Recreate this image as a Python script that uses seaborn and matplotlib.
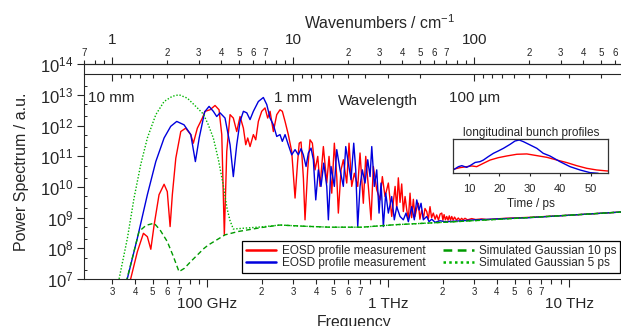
import numpy as np
import matplotlib
matplotlib.use("Agg")
import matplotlib.pyplot as plt
from matplotlib import ticker
from matplotlib.transforms import blended_transform_factory
import seaborn as sns

# conversion constants (frequency in GHz)
C_MM_GHZ = 299.792458   # wavelength [mm] * frequency [GHz]
C_CM_GHZ = 29.9792458   # frequency [GHz] / wavenumber [cm^-1]

# --- EOSD spectrum 1 (red): frequency [GHz], log10(power) ---
red_freq = [37.3, 37.9, 41.2, 44.5, 46.8, 48.9, 51.0, 54.3, 57.9, 60.3, 62.5, 64.3, 67.2, 71.6,
            76.2, 81.3, 84.0, 88.4, 94.2, 97.5, 103.9, 110.7, 116.5, 120.6, 124.6, 128.5, 134.0,
            139.7, 145.9, 152.2, 158.8, 163.6, 167.8, 172.8, 180.3, 185.8, 192.1, 200.5, 209.1,
            216.3, 222.9, 232.5, 242.7, 253.0, 260.6, 269.8, 281.2, 293.6, 306.4, 316.6, 323.1,
            330.7, 340.7, 347.8, 359.8, 370.7, 381.9, 395.2, 409.0, 421.1, 439.2, 458.6, 472.1,
            488.7, 505.1, 520.8, 531.4, 550.0, 566.2, 591.3, 608.8, 630.0, 651.3, 680.1, 700.3,
            730.3, 753.0, 778.4, 805.4, 829.5, 866.2, 903.3, 930.1, 962.5, 1004, 1048, 1094, 1117,
            1140, 1165, 1190, 1215, 1242, 1269, 1295, 1323, 1350, 1380, 1409, 1440, 1471, 1500,
            1535, 1570, 1600, 1636, 1670, 1706, 1740, 1779, 1820, 1857, 1900, 1940, 1981, 2010,
            2040, 2075, 2110, 2145, 2180, 2215, 2249, 2290, 2330, 2390, 2445, 2500, 2550, 2600,
            2662, 2750, 2900, 3050, 3294, 3500, 3742, 4430, 6000, 10000, 20000]
red_log = [6.9, 7.02, 7.89, 8.49, 8.38, 7.97, 8.76, 9.75, 10.09, 9.85, 8.71, 9.75, 10.94, 11.81,
           11.92, 11.71, 11.43, 11.92, 12.25, 12.47, 12.52, 12.66, 12.52, 11.71, 8.44, 11.16, 12.36,
           12.25, 11.81, 12.30, 11.92, 11.38, 11.60, 11.32, 11.71, 11.54, 12.14, 12.47, 12.58,
           12.25, 12.47, 11.81, 12.36, 12.52, 12.47, 12.14, 11.71, 11.16, 9.64, 10.83, 11.43,
           11.47, 10.29, 8.93, 10.56, 11.54, 11.43, 10.56, 11.0, 10.02, 11.32, 10.13, 11.0,
           9.80, 11.43, 10.34, 9.15, 10.56, 10.89, 10.13, 11.43, 10.02, 10.45, 10.02, 11.11,
           9.47, 11.0, 10.02, 8.93, 10.67, 9.91, 9.58, 10.34, 9.69, 10.13, 9.04, 10.02, 9.3,
           10.3, 9.5, 10.1, 9.2, 9.69, 9.25, 8.95, 9.8, 9.0, 9.6, 9.04, 9.3, 9.47, 8.95,
           9.25, 8.98, 9.3, 9.20, 8.95, 9.36, 9.0, 9.15, 8.95, 9.09, 8.92, 9.12, 9.15, 8.92,
           9.1, 8.93, 9.04, 8.92, 9.06, 8.92, 9.04, 8.92, 9.02, 8.92, 8.99, 8.92, 8.98, 8.93,
           8.98, 8.93, 8.97, 8.94, 8.96, 8.94, 8.95, 8.98, 9.01, 9.08, 9.19]

# --- EOSD spectrum 2 (blue) ---
blue_freq = [35.5, 36.3, 41.2, 46.8, 52.1, 57.9, 63.0, 68.0, 74.6, 81.3, 86.2, 90.5, 97.0, 102.6,
             108.3, 113.1, 118.0, 125.7, 134.0, 139.7, 145.9, 152.2, 158.8, 165.8, 172.8, 180.3,
             192.1, 204.7, 213.8, 222.9, 232.5, 242.7, 253.0, 260.6, 269.8, 281.2, 293.6, 306.4,
             319.5, 330.6, 340.4, 352.4, 362.9, 375.5, 386.7, 398.7, 412.1, 426.4, 441.3, 458.6,
             468.1, 484.2, 505.1, 520.8, 543.1, 566.2, 583.8, 603.5, 624.6, 646.4, 663.0, 680.1,
             700.3, 721.1, 746.4, 772.5, 795.7, 813.0, 840.1, 866.2, 892.0, 915.0, 942.2, 971.2,
             1004, 1048, 1083, 1117, 1165, 1215, 1257, 1295, 1352, 1397, 1441, 1484, 1522, 1567,
             1636, 1685, 1744, 1819, 1938, 2065, 2249, 2553, 3025, 3742, 4430, 6000, 10000, 20000]
blue_log = [6.9, 7.02, 8.33, 9.75, 10.83, 11.60, 11.98, 12.14, 12.03, 11.71, 10.83, 11.6, 12.45, 12.63,
            12.47, 12.30, 12.42, 12.25, 11.38, 10.34, 11.38, 12.14, 12.47, 12.42, 12.20, 12.47,
            12.79, 12.92, 12.69, 12.25, 12.03, 11.65, 11.71, 11.49, 11.71, 11.38, 11.05, 11.22,
            11.05, 11.25, 11.05, 10.67, 11.11, 11.27, 10.89, 9.58, 10.56, 10.02, 10.78, 10.02,
            8.93, 10.67, 10.02, 11.22, 10.56, 10.02, 11.32, 10.78, 10.24, 11.43, 10.56, 8.71,
            10.02, 10.56, 10.13, 10.89, 10.34, 11.32, 10.02, 10.56, 9.15, 10.13, 8.71, 9.80,
            9.15, 9.69, 8.93, 9.36, 9.04, 8.93, 9.15, 8.87, 9.36, 8.93, 9.58, 9.25, 9.47, 8.93,
            9.04, 8.87, 8.95, 8.85, 8.90, 8.87, 8.88, 8.9, 8.93, 8.95, 8.97, 9.0, 9.08, 9.19]

# --- simulated Gaussian spectra; both sit on the same floor at high frequency ---
gauss10_freq = [35.5, 36.1, 42.1, 46.0, 51.0, 55.0, 60.3, 65.0, 70.0, 75.0, 81.3, 96.3, 101.7,
                125.7, 148.9, 175.0, 200.5]
gauss10_log = [6.9, 7.0, 8.55, 8.75, 8.82, 8.6, 8.22, 7.75, 7.24, 7.35, 7.57, 8.0, 8.11,
               8.44, 8.55, 8.62, 8.68]
gauss5_freq = [32.0, 32.7, 36.3, 39.5, 43.0, 46.8, 52.1, 57.9, 64.3, 70.0, 77.8, 88.4, 95.4,
               101.3, 108.3, 115.5, 123.0, 129.0, 134.0, 139.7, 162.0, 200.5]
gauss5_log = [6.8, 7.02, 8.33, 9.64, 10.73, 11.6, 12.36, 12.79, 12.96, 13.01, 12.9, 12.58, 12.38,
              12.05, 11.6, 10.9, 10.05, 9.3, 8.9, 8.63, 8.66, 8.7]
floor_freq = [253.0, 348.0, 478.0, 716.0, 1090, 2200, 4160, 10000, 20000]
floor_log = [8.76, 8.72, 8.69, 8.69, 8.77, 8.86, 8.95, 9.08, 9.19]

# --- inset: longitudinal bunch profiles ---
prof_blue_t = [4.8, 6.5, 7.6, 9.2, 10.3, 12.0, 13.6, 14.7, 16.3, 18.0, 19.6, 21.3, 23.5, 25.1,
               26.5, 27.9, 30.1, 32.3, 34.4, 36.6, 39.9, 43.2, 46.5, 49.8, 52.5]
prof_blue = [0.10, 0.196, 0.225, 0.176, 0.225, 0.32, 0.343, 0.39, 0.49, 0.588, 0.657, 0.735,
             0.853, 0.95, 0.98, 0.93, 0.833, 0.735, 0.588, 0.51, 0.343, 0.196, 0.098, 0.02, 0.0]
prof_red_t = [4.8, 7.0, 9.2, 10.9, 12.5, 14.7, 16.9, 19.6, 22.4, 25.7, 29.0, 32.3, 35.6, 38.9,
              42.2, 45.4, 48.7, 52.0, 55.3, 55.8]
prof_red = [0.118, 0.167, 0.196, 0.216, 0.196, 0.294, 0.39, 0.46, 0.51, 0.56, 0.57, 0.52, 0.47,
            0.39, 0.314, 0.225, 0.147, 0.098, 0.07, 0.068]

major_freq = [100, 1000, 10000]
major_freq_labels = ["100 GHz", "1 THz", "10 THz"]
major_wn = [1, 10, 100]
wl_marks = [10.0, 1.0, 0.1]
wl_labels = ["10 mm", "1 mm", "100 µm"]

RED = "#ff0000"
BLUE = "#0000dd"
GREEN_DASH = "#009a00"
GREEN_DOT = "#00b400"


def ghz_to_mm(f):
    f = np.asarray(f, dtype=float)
    with np.errstate(divide="ignore", invalid="ignore"):
        return C_MM_GHZ / f


def ghz_to_wn(f):
    return np.asarray(f, dtype=float) / C_CM_GHZ


def wn_to_ghz(k):
    return np.asarray(k, dtype=float) * C_CM_GHZ


def minor_digit(v, pos=None):
    if v <= 0:
        return ""
    d = int(round(v / 10 ** np.floor(np.log10(v) + 1e-9)))
    return str(d) if 2 <= d <= 7 else ""


sns.set_style("ticks")
plt.rcParams["font.family"] = ["Liberation Sans", "DejaVu Sans"]
plt.rcParams["mathtext.default"] = "regular"
plt.rcParams["axes.linewidth"] = 0.8

fig = plt.figure(figsize=(6.21, 3.26), dpi=100)
ax = fig.add_axes([84 / 621, 47 / 326, 539.5 / 621, 214.6 / 326])

sns.lineplot(x=red_freq, y=10.0 ** np.array(red_log), ax=ax, color=RED, lw=1.0,
             sort=False, estimator=None, label="EOSD profile measurement")
sns.lineplot(x=blue_freq, y=10.0 ** np.array(blue_log), ax=ax, color=BLUE, lw=1.0,
             sort=False, estimator=None, label="EOSD profile measurement")
sns.lineplot(x=gauss10_freq + floor_freq, y=10.0 ** np.array(gauss10_log + floor_log), ax=ax,
             color=GREEN_DASH, lw=1.0, linestyle=(0, (3.5, 2.2)),
             sort=False, estimator=None, label="Simulated Gaussian 10 ps")
sns.lineplot(x=gauss5_freq + floor_freq, y=10.0 ** np.array(gauss5_log + floor_log), ax=ax,
             color=GREEN_DOT, lw=1.0, linestyle=(0, (1, 1.3)),
             sort=False, estimator=None, label="Simulated Gaussian 5 ps")

ax.set_xscale("log")
ax.set_yscale("log")
ax.set_xlim(20.9, 20000)
ax.set_ylim(1e7, 1e14)
ax.spines["right"].set_visible(False)

# bottom frequency axis
ax.xaxis.set_major_locator(ticker.FixedLocator(major_freq))
ax.xaxis.set_major_formatter(ticker.FixedFormatter(major_freq_labels))
ax.xaxis.set_minor_locator(ticker.LogLocator(base=10, subs=np.arange(2, 10), numticks=30))
ax.xaxis.set_minor_formatter(ticker.FuncFormatter(minor_digit))
ax.tick_params(axis="x", which="major", direction="out", length=5.8, width=0.8, pad=7,
               labelsize=11, top=False)
ax.tick_params(axis="x", which="minor", direction="out", length=3.6, width=0.8, pad=2.2,
               labelsize=7, top=False)
ax.set_xlabel("Frequency", fontsize=11.3, labelpad=3)

# left power axis
ax.yaxis.set_major_locator(ticker.LogLocator(base=10, numticks=20))
ax.yaxis.set_minor_locator(ticker.LogLocator(base=10, subs=(2, 5), numticks=20))
ax.yaxis.set_minor_formatter(ticker.NullFormatter())
ax.tick_params(axis="y", which="major", direction="out", length=4.8, width=0.8, pad=3,
               labelsize=12, right=False)
ax.tick_params(axis="y", which="minor", direction="in", length=2, width=0.7, right=False)
ax.set_ylabel("Power Spectrum / a.u.", fontsize=11.5, labelpad=8)

# top wavenumber axis
wn = ax.secondary_xaxis("top", functions=(ghz_to_wn, wn_to_ghz))
wn.xaxis.set_major_locator(ticker.FixedLocator(major_wn))
wn.xaxis.set_major_formatter(ticker.FixedFormatter([str(k) for k in major_wn]))
wn.xaxis.set_minor_locator(ticker.LogLocator(base=10, subs=np.arange(2, 10), numticks=30))
wn.xaxis.set_minor_formatter(ticker.FuncFormatter(minor_digit))
wn.tick_params(axis="x", which="major", direction="out", length=4.8, width=0.8, pad=7.5,
               labelsize=11)
wn.tick_params(axis="x", which="minor", direction="out", length=2.9, width=0.8, pad=2,
               labelsize=7)
fig.text(380 / 621, 1 - 23 / 326, "Wavenumbers / cm$^{-1}$", ha="center", va="center",
         fontsize=11.4)

# wavelength axis drawn as a line inside the plot, ticks hanging down
wl_pos = (279 - 74) / 214.6
wl = ax.secondary_xaxis(wl_pos, functions=(ghz_to_mm, ghz_to_mm))
wl.xaxis.set_major_locator(ticker.FixedLocator(wl_marks))
wl.xaxis.set_minor_locator(ticker.LogLocator(base=10, subs=np.arange(2, 10), numticks=30))
wl.xaxis.set_minor_formatter(ticker.NullFormatter())
wl.tick_params(axis="x", which="both", direction="in", width=0.8, labeltop=False,
               labelbottom=False)
wl.tick_params(axis="x", which="major", length=4.8)
wl.tick_params(axis="x", which="minor", length=2.9)

tr = blended_transform_factory(ax.transData, ax.transAxes)
ax.text(0.008, 0.843, wl_labels[0], transform=ax.transAxes, ha="left", va="center", fontsize=11)
for mark, lab in zip(wl_marks[1:], wl_labels[1:]):
    ax.text(C_MM_GHZ / mark, 0.843, lab, transform=tr, ha="center", va="center", fontsize=11)
ax.text(0.544, 0.83, "Wavelength", transform=ax.transAxes, ha="center", va="center",
        fontsize=11)

leg = ax.legend(loc="lower right", bbox_to_anchor=(0.9935, 0.028), ncol=2, fontsize=8.5,
                frameon=True, fancybox=False, edgecolor="black", framealpha=1,
                handlelength=2.6, handletextpad=0.45, columnspacing=1.5, labelspacing=0.05,
                borderpad=0.3, borderaxespad=0)
leg.get_frame().set_linewidth(0.9)
for line in leg.get_lines():
    line.set_linewidth(1.8)

# inset with the bunch profiles
ins = ax.inset_axes([0.6845, 0.4925, 0.2873, 0.1584])
sns.lineplot(x=prof_red_t, y=prof_red, ax=ins, color=RED, lw=1.0, sort=False,
             estimator=None, legend=False)
sns.lineplot(x=prof_blue_t, y=prof_blue, ax=ins, color=BLUE, lw=1.0, sort=False,
             estimator=None, legend=False)
ins.set_xlim(4.8, 55.8)
ins.set_ylim(0, 1.0)
ins.set_yticks([])
ins.set_xticks([10, 20, 30, 40, 50])
ins.tick_params(axis="x", direction="out", length=2.4, width=0.8, pad=5, labelsize=8)
for sp in ins.spines.values():
    sp.set_visible(True)
    sp.set_color("#333333")
    sp.set_linewidth(0.9)
ins.set_title("longitudinal bunch profiles", fontsize=8.5, pad=1.5)
ins.set_xlabel("Time / ps", fontsize=8.5, labelpad=3)
ins.set_ylabel("")

fig.savefig("out.png", dpi=100)
